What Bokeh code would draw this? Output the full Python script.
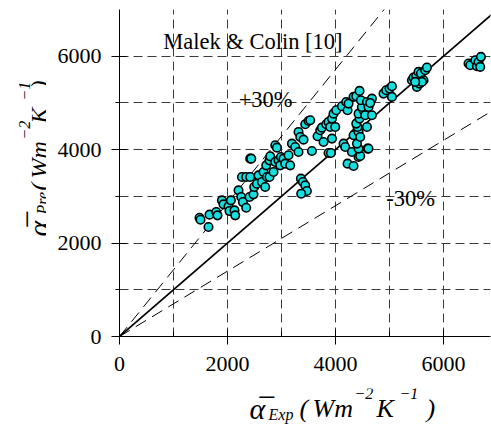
import math
from bokeh.plotting import figure
from bokeh.layouts import row, column
from bokeh.models import FixedTicker, Label, ColumnDataSource, Spacer
from bokeh.embed import file_html
from bokeh.resources import INLINE

# Experimental vs predicted mean heat transfer coefficient (W m^-2 K^-1)
alpha_exp = [
    1482, 1500, 1648, 1667, 1791, 1815, 1896, 1926, 2019, 2037, 2063, 2130, 2143,
    2204, 2254, 2285, 2346, 2267, 2346, 2420, 2408, 2482, 2494, 2544, 2575, 2637,
    2698, 2667, 2730, 2778, 2717, 2778, 2791, 2420, 2440, 2852, 2884, 2945, 2976,
    2989, 3037, 3069, 3130, 3161, 3193, 3254, 3315, 3315, 3347, 3408, 3439, 3500,
    3532, 2884, 2915, 3359, 3396, 3439, 3470, 3365, 3563, 3667, 3717, 3748, 3778,
    3828, 3871, 3902, 3934, 3963, 3995, 3934, 3871, 3915, 4013, 4119, 4198, 4223,
    4149, 4180, 4223, 4334, 4304, 4427, 4458, 4427, 4397, 4593, 4610, 4365, 4334,
    4427, 4458, 4408, 4384, 4445, 4427, 4519, 4550, 4488, 4334, 4384, 4445, 4470,
    4582, 4612, 4674, 4643, 4582, 4674, 4242, 4889, 4939, 5001, 5045, 5045, 5415,
    5445, 5494, 5537, 5582, 5630, 5661, 5693, 5507, 5557, 5600, 5476, 6463, 6495,
    6588, 6619, 6649, 6693, 6680,
]
alpha_pre = [
    2543, 2500, 2343, 2608, 2664, 2593, 2914, 2829, 2786, 2685, 2914, 2700, 2593,
    3129, 2986, 2878, 2757, 3414, 3414, 3414, 2986, 3043, 3200, 3271, 3450, 3307,
    3200, 3521, 3414, 3414, 3664, 3771, 3857, 3807, 3807, 3521, 3736, 3771, 3664,
    3843, 3807, 3700, 3879, 3664, 4129, 4057, 3950, 4379, 4271, 4214, 4543, 4614,
    4629, 4093, 4043, 3379, 3307, 3236, 3114, 3057, 3972, 4286, 4415, 4471, 4164,
    4543, 4593, 4486, 4664, 4771, 4486, 4236, 3929, 3929, 4843, 4929, 5021, 4843,
    4129, 4057, 3700, 3650, 3950, 3843, 3864, 4022, 4129, 4022, 4022, 4343, 4307,
    4379, 4271, 4486, 4557, 4664, 4771, 4843, 4736, 4914, 5129, 5143, 5257, 5057,
    5021, 4914, 5093, 5000, 4486, 4736, 4986, 5200, 5271, 5307, 5357, 5129, 5486,
    5543, 5571, 5664, 5629, 5486, 5700, 5757, 5343, 5414, 5450, 5450, 5843, 5807,
    5914, 5786, 5879, 5986, 5771,
]

# Reference lines: perfect agreement and the +/-30 % band
ref_x = [0, 7000]
band = 0.30

x_ticks = [0, 2000, 4000, 6000]
x_minor = [1000, 3000, 5000]
y_ticks = [0, 2000, 4000, 6000]
y_minor = [1000, 3000, 5000]
grid_x = [1000, 2000, 3000, 4000, 5000, 6000]
grid_y = [1000, 2000, 3000, 4000, 5000, 6000, 7000]

SERIF = "Liberation Serif"
W, H = 491, 427
YT_W = 46          # strip holding the rotated y title
MAIN_H = 388       # main figure height; x title strip below it
LEFT, TOP, BOTTOM = 119, 9, 336   # frame edges in page pixels

# ---------------------------------------------------------------- main plot
p = figure(width=W - YT_W, height=MAIN_H, x_range=(0, 6870), y_range=(0, 7000),
           output_backend="svg", toolbar_location=None,
           min_border_left=LEFT - YT_W, min_border_right=1,
           min_border_top=TOP, min_border_bottom=MAIN_H - BOTTOM)
p.outline_line_color = None
p.background_fill_color = "white"
p.border_fill_color = "white"

for ax, ticks, minor in ((p.xaxis[0], x_ticks, x_minor), (p.yaxis[0], y_ticks, y_minor)):
    ax.ticker = FixedTicker(ticks=ticks, minor_ticks=minor)
    ax.axis_line_color = "black"
    ax.axis_line_width = 1
    ax.major_tick_line_color = "black"
    ax.minor_tick_line_color = "black"
    ax.major_tick_in = 7
    ax.major_tick_out = 8
    ax.major_label_text_font = SERIF
    ax.major_label_text_font_size = "22px"
    ax.major_label_text_color = "black"

p.xaxis.minor_tick_in = 5
p.xaxis.minor_tick_out = 0
p.yaxis.minor_tick_in = 0
p.yaxis.minor_tick_out = 4
p.xaxis.major_label_standoff = 12
p.yaxis.major_label_standoff = 10

p.xgrid.ticker = FixedTicker(ticks=grid_x)
p.ygrid.ticker = FixedTicker(ticks=grid_y)
for g in (p.xgrid[0], p.ygrid[0]):
    g.grid_line_color = "#3a3a3a"
    g.grid_line_dash = "9 5"
    g.grid_line_width = 1

# y = x and the +/-30 % lines
p.line(ref_x, ref_x, line_color="black", line_width=1.6)
p.line(ref_x, [v / (1 - band) for v in ref_x], line_color="black",
       line_width=1, line_dash="12 7")
p.line(ref_x, [v * (1 - band) for v in ref_x], line_color="black",
       line_width=1, line_dash="12 7")

src = ColumnDataSource(dict(x=alpha_exp, y=alpha_pre))
p.scatter("x", "y", source=src, size=8.5, fill_color="#17dede",
          line_color="black", line_width=1.6)

# In-plot annotations
for txt, lx, ly in (("Malek & Colin [10]", 809, 6307),
                    ("+30%", 2207, 5072),
                    ("-30%", 4940, 2960)):
    p.add_layout(Label(x=lx, y=ly, text=txt, text_font=SERIF,
                       text_font_size="22.5px", text_color="black",
                       text_baseline="alphabetic"))


def strip(width, height, top=0, bottom=0):
    """Blank figure carrying axis-title text; data units equal pixels."""
    f = figure(width=width, height=height, x_range=(0, width),
               y_range=(0, height - top - bottom),
               output_backend="svg", toolbar_location=None,
               x_axis_location=None, y_axis_location=None,
               min_border=0, min_border_left=0, min_border_right=0,
               min_border_top=top, min_border_bottom=bottom)
    f.outline_line_color = None
    f.xgrid.visible = False
    f.ygrid.visible = False
    f.background_fill_color = "white"
    f.border_fill_color = "white"
    return f


def piece(f, ox, oy_bottom, txt, x, y_top, size, angle=0.0):
    """Place a title fragment by page pixel (x from left, y from top)."""
    f.add_layout(Label(x=x - ox, y=oy_bottom - y_top, text=txt, text_font=SERIF,
                       text_font_size=f"{size}px", text_font_style="italic",
                       text_color="black", text_baseline="alphabetic", angle=angle))


# x axis title: mean alpha_Exp (W m^-2 K^-1)
xt = strip(W - YT_W, H - MAIN_H)
for txt, x, y, s in (("\u03b1\u0305", 249, 408, 30), ("Exp", 268, 414, 16),
                     ("(", 299, 408, 26), ("Wm", 312, 408, 26),
                     ("\u22122", 354, 393, 16), ("K", 376, 408, 26),
                     ("\u22121", 399, 393, 16), (")", 426, 408, 26)):
    piece(xt, YT_W, H, txt, x, y, s)

# y axis title: mean alpha_Pre (W m^-2 K^-1), reading upwards; its frame
# lines up with the main frame (TOP..BOTTOM)
yt = strip(YT_W, MAIN_H, top=TOP, bottom=MAIN_H - BOTTOM)
r = math.pi / 2
for txt, x, y, s in (("\u03b1\u0305", 38, 236, 30), ("Pre", 42, 214, 16),
                     ("(", 38, 190, 24), ("Wm", 38, 178, 24),
                     ("\u22122", 24, 139, 16), ("K", 38, 123, 24),
                     ("\u22121", 24, 100, 16), (")", 38, 88, 24)):
    piece(yt, 0, BOTTOM, txt, x, y, s, r)

layout = column(row(yt, p), row(Spacer(width=YT_W, height=H - MAIN_H), xt))
open("out.html", "w").write(file_html(layout, INLINE))
